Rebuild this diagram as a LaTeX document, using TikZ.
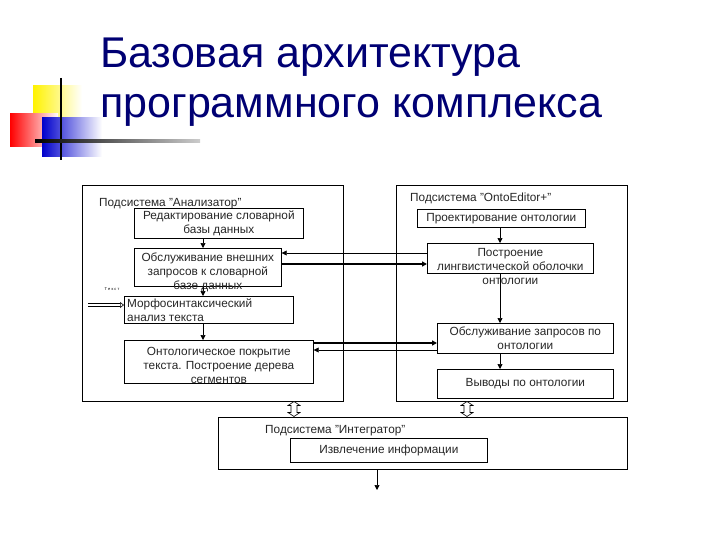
\documentclass[tikz,border=0pt]{standalone}
\usepackage{fontspec}
\setmainfont{Liberation Sans}
\usetikzlibrary{arrows.meta}
\newcommand{\qq}{\symbol{34}}
\begin{document}
\begin{tikzpicture}[x=1pt,y=-1pt,
 box/.style={draw,line width=0.7pt,inner sep=0pt},
 txt/.style={font=\fontsize{11.8}{14}\selectfont,align=center,inner sep=0pt,text=black!85},
 arr/.style={-{Triangle[length=5pt,width=5pt]},line width=0.7pt},
 tarr/.style={-{Triangle[length=5pt,width=5pt]},line width=2pt},
 dbl/.style={draw,line width=0.6pt,fill=white}]
\useasboundingbox (0,0) rectangle (720,540);
% decoration
\shade[left color=yellow!90!orange,right color=white] (33,86) rectangle (82,118);
\shade[left color=red,right color=white] (10,114) rectangle (58,147);
\shade[left color=blue!80!black,right color=white] (42,118) rectangle (102,157);
\draw[line width=2pt] (61,78) -- (61,160);
\shade[left color=black,right color=gray!40] (35,140) rectangle (200,142.5);
\node[anchor=base west,inner sep=0pt,text=blue!45!black,font=\fontsize{43}{45}\selectfont] (t1) at (100,68) {Базовая архитектура};
\node[anchor=base west,inner sep=0pt,text=blue!45!black,font=\fontsize{43}{45}\selectfont] (t2) at (100,118) {программного комплекса};
% left subsystem
\node[box,minimum width=261,minimum height=216,anchor=north west] (L) at (82,185) {};
\node[txt,anchor=west] (Ll) at (99,204) {Подсистема \qq Анализатор\qq};
\node[box,fill=white,minimum width=169,minimum height=30,anchor=north west] (b1) at (134,208) {};
\node[txt] at (b1) {Редактирование словарной\\базы данных};
\node[box,minimum width=147,minimum height=38,anchor=north west] (b2) at (134,248) {};
\node[txt] at ([yshift=-5]b2.center) {Обслуживание внешних\\запросов к словарной\\базе данных};
\node[box,minimum width=169,minimum height=27,anchor=north west] (b3) at (124,296) {};
\node[txt,align=left,anchor=north west] at (127,299) {Морфосинтаксический\\анализ текста};
\node[box,minimum width=189,minimum height=43,anchor=north west] (b4) at (124,340) {};
\node[txt] at ([yshift=-4]b4.center) {Онтологическое покрытие\\текста. Построение дерева\\сегментов};
\draw[arr] (b1.south -| 203,0) -- (b2.north -| 203,0);
\draw[arr] (b2.south -| 203,0) -- (b3.north -| 203,0);
\draw[arr] (b3.south -| 203,0) -- (b4.north -| 203,0);
\node[inner sep=0pt,font=\fontsize{4}{4}\selectfont] (tx) at (112,289) {Т е к с т};
\coordinate (in) at (88,305);
\draw[line width=0.6pt,double distance=2pt,-{Triangle[open,length=4pt,width=6pt]}] (in) -- (b3.west |- in);
% right subsystem
\node[box,minimum width=231,minimum height=216,anchor=north west] (R) at (396,185) {};
\node[txt,anchor=west] (Rl) at (410,198) {Подсистема \qq OntoEditor+\qq};
\node[box,minimum width=168,minimum height=18,anchor=north west] (r1) at (417,209) {};
\node[txt] at (r1) {Проектирование онтологии};
\node[box,minimum width=166,minimum height=30,anchor=north west] (r2) at (427,243) {};
\node[txt] at ([yshift=-8]r2.center) {Построение\\лингвистической оболочки\\онтологии};
\node[box,minimum width=176,minimum height=30,anchor=north west] (r3) at (437,323) {};
\node[txt] at (r3) {Обслуживание запросов по\\онтологии};
\node[box,minimum width=176,minimum height=29,anchor=north west] (r4) at (437,369) {};
\node[txt] at (r4) {Выводы по онтологии};
\draw[arr] (r1.south -| 500,0) -- (r2.north -| 500,0);
\draw[arr] (r2.south -| 500,0) -- (r3.north -| 500,0);
\draw[arr] (r3.south -| 500,0) -- (r4.north -| 500,0);
% cross links
\draw[arr] (r2.west |- 0,253) -- (b2.east |- 0,253);
\draw[tarr] (b2.east |- 0,264) -- (r2.west |- 0,264);
\draw[tarr] (b4.east |- 0,343) -- (r3.west |- 0,343);
\draw[arr] (r3.west |- 0,350) -- (b4.east |- 0,350);
% integrator
\node[box,minimum width=409,minimum height=52,anchor=north west] (I) at (218,417) {};
\node[txt,anchor=west] (Il) at (265,431) {Подсистема \qq Интегратор\qq};
\node[box,minimum width=197,minimum height=24,anchor=north west] (i1) at (290,438) {};
\node[txt] at (i1) {Извлечение информации};
\coordinate (out) at (377,490);
\draw[arr] (I.south -| out) -- (out);
\foreach \x in {294,467}{
 \draw[dbl] (\x,401.5) -- (\x+6,405.5) -- (\x+3,405.5) -- (\x+3,412.5) -- (\x+6,412.5) -- (\x,416.5) -- (\x-6,412.5) -- (\x-3,412.5) -- (\x-3,405.5) -- (\x-6,405.5) -- cycle;}
\end{tikzpicture}
\end{document}
